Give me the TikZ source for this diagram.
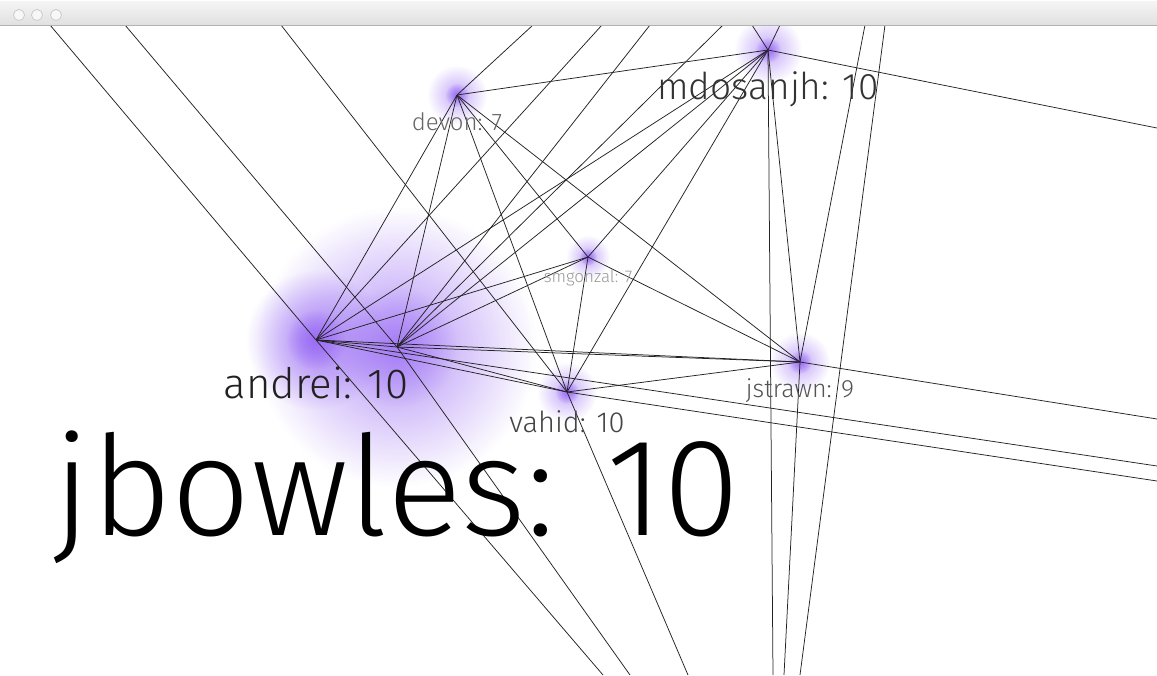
\documentclass[tikz,border=0pt]{standalone}
\usepackage{fontspec}
\setmainfont{Fira Sans Light}
\usepackage{xcolor}
\usepackage{tikz}
\usetikzlibrary{fadings}

\definecolor{glowc}{RGB}{155,110,245}
\definecolor{edgec}{RGB}{35,35,35}
\tikzfading[name=glowfade, inner color=transparent!0, outer color=transparent!100]

\begin{document}
\begin{tikzpicture}[x=1pt, y=-1pt,
  vtx/.style={inner sep=0pt, minimum size=0pt},
  edge/.style={draw=edgec, line width=0.75pt},
  glow/.style={fill=glowc, path fading=glowfade},
  lbl/.style={anchor=base, inner sep=0pt, font=\fontsize{#1}{#1}\selectfont}]
\useasboundingbox (0,0) rectangle (1157,675);
\fill[white] (0,0) rectangle (1157,675);

% people
\node[vtx] (an) at (316,340) {};
\node[vtx] (jb) at (397,347) {};
\node[vtx] (dv) at (457,95) {};
\node[vtx] (md) at (768,50) {};
\node[vtx] (sm) at (588,257) {};
\node[vtx] (va) at (567,392) {};
\node[vtx] (js) at (800,362) {};

% people outside the window
\coordinate (t1) at (50,25);   \coordinate (t2) at (125,25);  \coordinate (t3) at (281,25);
\coordinate (t4) at (533,25);  \coordinate (t5) at (602,25);  \coordinate (t6) at (650,25);
\coordinate (t7) at (723,25);  \coordinate (t8) at (752,25);  \coordinate (t9) at (780,25);
\coordinate (t10) at (865,25); \coordinate (t11) at (885,25);
\coordinate (b1) at (603,675); \coordinate (b2) at (630,675); \coordinate (b3) at (688,675);
\coordinate (b4) at (773,675); \coordinate (b5) at (784,675); \coordinate (b6) at (800,675);
\coordinate (r1) at (1157,128); \coordinate (r2) at (1157,419);
\coordinate (r3) at (1157,466); \coordinate (r4) at (1157,481);

% glow
\fill[glow, opacity=0.75] (jb) circle (140);
\fill[glow, opacity=0.6] (jb) circle (60);
\fill[glow, opacity=0.8] (an) circle (70);
\fill[glow] (an) circle (30);
\fill[glow, opacity=0.6] (dv) circle (30); \fill[glow] (dv) circle (12);
\fill[glow, opacity=0.6] (md) circle (34); \fill[glow] (md) circle (13);
\fill[glow, opacity=0.6] (sm) circle (22); \fill[glow] (sm) circle (9);
\fill[glow, opacity=0.6] (va) circle (30); \fill[glow] (va) circle (12);
\fill[glow, opacity=0.6] (js) circle (30); \fill[glow] (js) circle (12);

\begin{scope}
\clip (0,25) rectangle (1157,675);
\draw[edge] (an) -- (jb); \draw[edge] (an) -- (dv); \draw[edge] (an) -- (sm);
\draw[edge] (an) -- (va); \draw[edge] (an) -- (js); \draw[edge] (an) -- (md);
\draw[edge] (jb) -- (dv); \draw[edge] (jb) -- (sm); \draw[edge] (jb) -- (va);
\draw[edge] (jb) -- (js); \draw[edge] (jb) -- (md);
\draw[edge] (dv) -- (sm); \draw[edge] (dv) -- (va); \draw[edge] (dv) -- (js);
\draw[edge] (dv) -- (md);
\draw[edge] (sm) -- (va); \draw[edge] (sm) -- (js); \draw[edge] (sm) -- (md);
\draw[edge] (va) -- (js); \draw[edge] (va) -- (md);
\draw[edge] (md) -- (js);
% edges leaving the window
\draw[edge] (t1) -- (an); \draw[edge] (an) -- (b1);
\draw[edge] (t5) -- (an); \draw[edge] (an) -- (r3);
\draw[edge] (t2) -- (jb); \draw[edge] (jb) -- (b2);
\draw[edge] (t6) -- (jb); \draw[edge] (t7) -- (jb);
\draw[edge] (t3) -- (va); \draw[edge] (va) -- (b3); \draw[edge] (va) -- (r4);
\draw[edge] (t4) -- (dv);
\draw[edge] (t8) -- (md); \draw[edge] (t9) -- (md);
\draw[edge] (md) -- (r1); \draw[edge] (md) -- (b4);
\draw[edge] (t10) -- (js); \draw[edge] (js) -- (b5); \draw[edge] (js) -- (r2);
\draw[edge] (t11) -- (b6);
\end{scope}

% names and counts
\node[lbl=139, text=black] (jbt) at (397,535) {jbowles: 10};
\node[lbl=42, text=black!87] (ant) at (316,398) {andrei: 10};
\node[lbl=37, text=black!80] (mdt) at (768,99) {mdosanjh: 10};
\node[lbl=29, text=black!73] (vat) at (567,432) {vahid: 10};
\node[lbl=25, text=black!67] (jst) at (800,397) {jstrawn: 9};
\node[lbl=24, text=black!60] (dvt) at (457,130) {devon: 7};
\node[lbl=17, text=black!40] (smt) at (588,282) {smgonzal: 7};

% window title bar
\shade[top color=black!4, bottom color=black!12] (0,1) rectangle (1157,25);
\draw[black!30, line width=0.8pt] (0,25) -- (1157,25);
\draw[black!22, fill=black!3, line width=0.7pt] (19,15) circle (5.5);
\draw[black!22, fill=black!3, line width=0.7pt] (37,15) circle (5.5);
\draw[black!22, fill=black!3, line width=0.7pt] (56,15) circle (5.5);
\end{tikzpicture}
\end{document}
